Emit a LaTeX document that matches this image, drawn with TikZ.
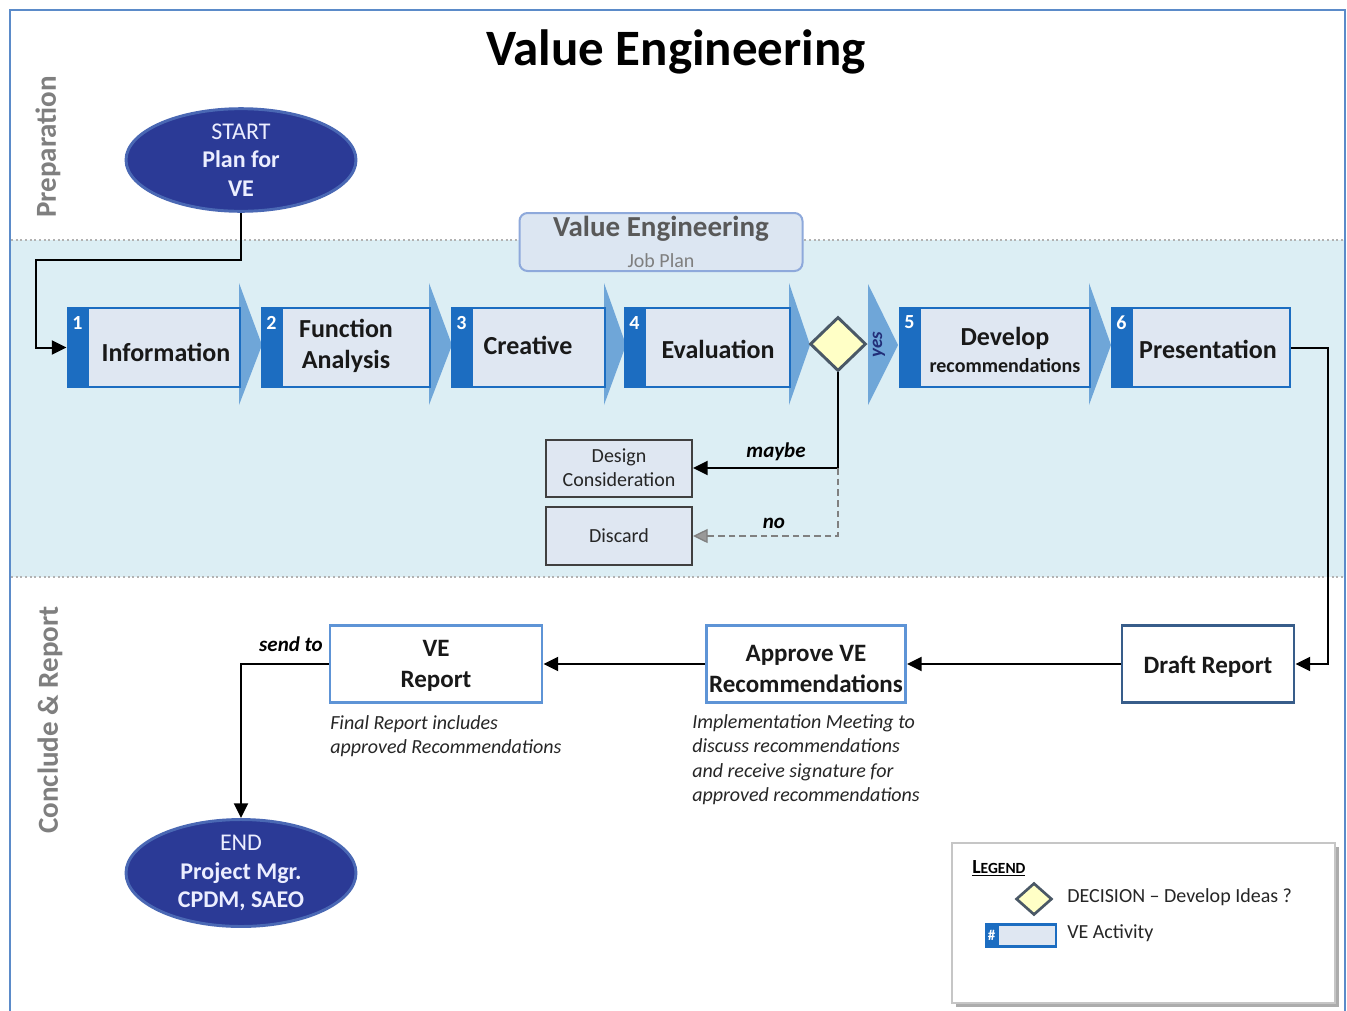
\documentclass[tikz,border=0pt]{standalone}
\usepackage{fontspec}
\setmainfont{Carlito}
\usetikzlibrary{arrows.meta,shapes.geometric,calc}
\definecolor{band}{HTML}{DCEEF4}
\definecolor{frameblue}{HTML}{5B8BC9}
\definecolor{navy}{HTML}{2B3A96}
\definecolor{navyedge}{HTML}{4A68B4}
\definecolor{stripe}{HTML}{1C6DC1}
\definecolor{stepfill}{HTML}{DFE7F2}
\definecolor{chev}{HTML}{6FA6D8}
\definecolor{lanegray}{HTML}{7F7F7F}
\definecolor{diafill}{HTML}{FFFFC6}
\definecolor{diaedge}{HTML}{4A5866}
\definecolor{lightedge}{HTML}{5E94D6}
\definecolor{darkedge}{HTML}{385D8A}
\definecolor{jpfill}{HTML}{DCE6F2}
\definecolor{jpedge}{HTML}{8EA9DB}
\definecolor{ovaltext}{HTML}{ECEEFF}
\newcommand\fz[2]{\fontsize{\fpeval{#1*0.75}pt}{\fpeval{#2*0.75}pt}\selectfont}
\begin{document}
\begin{tikzpicture}[x=0.75pt,y=-0.75pt,
  oval/.style={ellipse,fill=navy,draw=navyedge,line width=2.2pt,minimum width=230*0.75pt,minimum height=100*0.75pt,inner sep=0pt,text=ovaltext,align=center,font=\fz{24}{28.5}},
  stepbox/.style={draw=stripe,fill=stepfill,line width=2.2pt,minimum height=79*0.75pt,inner sep=0pt},
  stripebar/.style={fill=stripe},
  stepnum/.style={text=white,font=\fz{20}{22}\bfseries,inner sep=0pt},
  steptext/.style={font=\fz{26}{31}\bfseries,align=center,inner sep=0pt,text=black!90},
  chevron/.style={fill=chev},
  decision/.style={diamond,fill=diafill,draw=diaedge,line width=2.2pt,minimum width=56*0.75pt,minimum height=54*0.75pt,inner sep=0pt},
  optbox/.style={draw=black!75,fill=stepfill,line width=1.5pt,minimum width=146*0.75pt,minimum height=57*0.75pt,inner sep=0pt,align=center,font=\fz{20}{24},text=black!85},
  outbox/.style={fill=white,line width=2.2pt,minimum height=77*0.75pt,inner sep=0pt},
  outtext/.style={align=center,font=\fz{25}{31}\bfseries,inner sep=0pt,text=black!90},
  conn/.style={line width=1.5pt,black},
  arr/.style={-{Triangle[length=11pt,width=10.5pt]}},
  lbl/.style={font=\fz{21}{24}\bfseries\itshape,inner sep=0pt},
  caption/.style={font=\fz{20}{24.5}\itshape,align=left,inner sep=0pt,anchor=north west,text=black!85},
  lane/.style={rotate=90,font=\fz{29}{30}\bfseries,text=lanegray,inner sep=0pt}
]
\useasboundingbox (0,0) rectangle (1347,1011);
\fill[white] (0,0) rectangle (1347,1011);
% band
\fill[band] (11,240) rectangle (1344,577);
\draw[gray!60,line width=1.5pt,dotted] (11,240) -- (1344,240);
\draw[gray!60,line width=1.5pt,dotted] (11,577) -- (1344,577);
% frame
\draw[frameblue,line width=1.5pt] (10,10) rectangle (1345,1020);
% title
\node[font=\fz{51}{55}\bfseries,inner sep=0pt] (title) at (676,52) {Value Engineering};
% lane labels
\node[lane] (prep) at (48,147) {Preparation};
\node[lane] (concl) at (50,720) {Conclude \& Report};
% start
\node[oval] (start) at (241,160) {START\\\textbf{Plan for}\\\textbf{VE}};
% job plan
\node[rounded corners=6pt,fill=jpfill,draw=jpedge,line width=1.5pt,minimum width=283*0.75pt,minimum height=58*0.75pt,align=center,inner sep=0pt,font=\fz{29}{31}] (jp) at (661,242)
  {{\bfseries\color{black!65}Value Engineering}\\{\fz{20}{22}\color{lanegray}Job Plan}};
% chevrons
\fill[chevron] (239,283) -- (262,345) -- (239,405) -- cycle;
\fill[chevron] (429,283) -- (452,345) -- (429,405) -- cycle;
\fill[chevron] (604,283) -- (626,345) -- (604,405) -- cycle;
\fill[chevron] (789,283) -- (810,345) -- (789,405) -- cycle;
\fill[chevron] (868,284) -- (898,345) -- (868,405) -- cycle;
\fill[chevron] (1089,283) -- (1111,345) -- (1089,405) -- cycle;
% steps
\node[stepbox,minimum width=172*0.75pt] (s1) at (154,347.5) {};
\node[stepbox,minimum width=168*0.75pt] (s2) at (346,347.5) {};
\node[stepbox,minimum width=153*0.75pt] (s3) at (528.5,347.5) {};
\node[stepbox,minimum width=165*0.75pt] (s4) at (707.5,347.5) {};
\node[stepbox,minimum width=190*0.75pt] (s5) at (995,347.5) {};
\node[stepbox,minimum width=178*0.75pt] (s6) at (1201,347.5) {};
\foreach \s/\n in {s1/1,s2/2,s3/3,s4/4,s5/5,s6/6}{
  \fill[stripebar] (\s.north west) rectangle ($(\s.south west)+(22,0)$);
  \node[stepnum] at ($(\s.north west)+(11,16)$) {\n};
}
\node[steptext] (t1) at (166,352) {Information};
\node[steptext] (t2) at (346,346) {Function\\Analysis};
\node[steptext] (t3) at (528,345) {Creative};
\node[steptext] (t4) at (718,349) {Evaluation};
\node[steptext,font=\fz{26}{27}\bfseries] (t5) at (1005,350) {Develop\\{\fz{20}{22}recommendations}};
\node[steptext] (t6) at (1208,349) {Presentation};
\node[rotate=90,font=\fz{19}{20}\bfseries\itshape,text=navy!80!black,inner sep=0pt] (yes) at (879,345) {yes};
% decision
\node[decision] (dec) at (838,344) {};
% options
\node[optbox] (dc) at (619,468) {Design\\Consideration};
\node[optbox,minimum height=58*0.75pt] (disc) at (619,536) {Discard};
\coordinate (split) at (838,468);
\draw[conn,arr] (dec.south) |- (dc.east);
\draw[gray,line width=1pt,dash pattern=on 5pt off 3pt,-{Triangle[length=11pt,width=10.5pt,fill=gray!80]}] (split) |- (disc.east);
\node[lbl] (maybe) at (776,452) {maybe};
\node[lbl] (no) at (774,523) {no};
% start connector
\coordinate (c1) at (36,260);
\draw[conn,arr] (start.south) |- (c1) |- (s1.west);
% bottom row
\node[outbox,draw=darkedge,minimum width=172*0.75pt] (draft) at (1208,664) {};
\node[outbox,draw=lightedge,minimum width=199*0.75pt] (approve) at (806,664) {};
\node[outbox,draw=lightedge,minimum width=212*0.75pt] (ver) at (436,664) {};
\node[outtext] (draftt) at (1208,667) {Draft Report};
\node[outtext] (approvet) at (806,669) {Approve VE\\Recommendations};
\node[outtext] (vert) at (436,666) {VE\\Report};
\node[oval] (endn) at (241,873) {END\\\textbf{Project Mgr.}\\\textbf{CPDM, SAEO}};
\coordinate (c2) at (1328,664);
\draw[conn,arr] (s6.east) -| (c2) -- (draft.east);
\draw[conn,arr] (draft.west) -- (approve.east);
\draw[conn,arr] (approve.west) -- (ver.east);
\draw[conn,arr] (ver.west) -| (endn.north);
\node[lbl] (send) at (291,644) {send to};
\node[caption] (cap1) at (330,715) {Final Report includes\\approved Recommendations};
\node[caption] (cap2) at (692,714) {Implementation Meeting to\\discuss recommendations\\and receive signature for\\approved recommendations};
% legend
\fill[gray!65] (956,847) rectangle (1339,1007);
\draw[fill=white,draw=gray!45,line width=1.2pt] (952,843) rectangle (1335,1003);
\node[anchor=west,inner sep=0pt,font=\bfseries] (lg) at (972,868) {\underline{\fz{20}{20}L\fz{15.5}{20}EGEND}};
\node[decision,minimum width=36*0.75pt,minimum height=32*0.75pt,line width=2pt] (ldec) at (1034,899) {};
\node[anchor=west,inner sep=0pt,font=\fz{20}{22},text=black!85] (ltxt1) at (1067,897) {DECISION -- Develop Ideas ?};
\node[draw=stripe,fill=stepfill,line width=2pt,minimum width=70*0.75pt,minimum height=22*0.75pt,inner sep=0pt] (lact) at (1021,935.5) {};
\fill[stripe] (lact.north west) rectangle ($(lact.south west)+(14,0)$);
\node[text=white,font=\fz{15}{15}\bfseries,inner sep=0pt] at ($(lact.west)+(7,0)$) {\#};
\node[anchor=west,inner sep=0pt,font=\fz{20}{22},text=black!85] (ltxt2) at (1067,933) {VE Activity};
\end{tikzpicture}
\end{document}
